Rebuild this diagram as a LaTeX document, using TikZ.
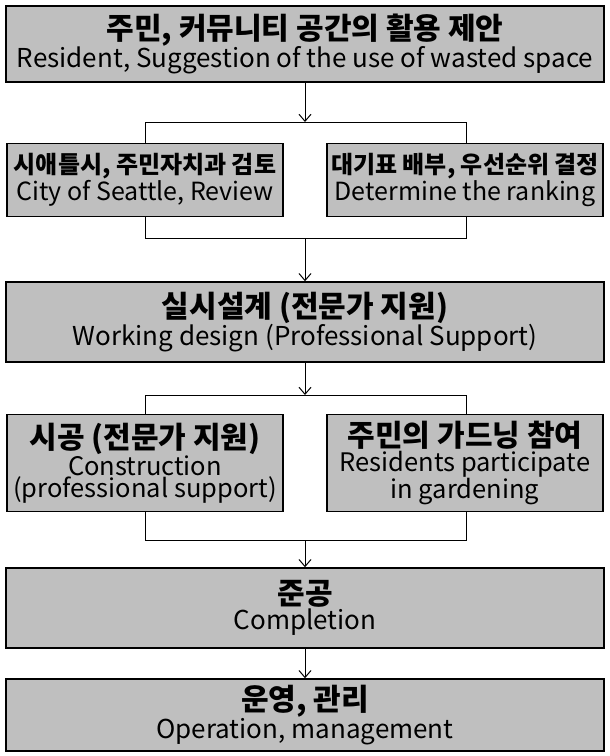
\documentclass[tikz,border=0pt]{standalone}
\usepackage{fontspec}
\usetikzlibrary{arrows.meta}
\setmainfont{Noto Sans CJK KR}
\begin{document}
\begin{tikzpicture}[x=1pt,y=-1pt,
 box/.style={draw=black,line width=1.5pt,fill=gray!50,inner sep=0pt,align=center},
 ln/.style={line width=1pt},
 ar/.style={line width=1pt,-{Straight Barb[length=7pt,width=12pt]}}]
\useasboundingbox (0,0) rectangle (610,756);
\newcommand\KB{\bfseries\fontsize{30}{32}\selectfont}
\newcommand\KS{\bfseries\fontsize{24}{30}\selectfont}
\newcommand\EN{\mdseries\fontsize{26}{32}\selectfont}
\newcommand\ES{\mdseries\fontsize{25}{30}\selectfont}
\newcommand\ET{\mdseries\fontsize{25.5}{28}\selectfont}
\node[box,minimum width=598pt,minimum height=76pt] (b1) at (305,44) {\KB 주민, 커뮤니티 공간의 활용 제안\\\EN Resident, Suggestion of the use of wasted space};
\node[box,minimum width=276pt,minimum height=73pt] (b2a) at (145,180) {\KS 시애틀시, 주민자치과 검토\\\ES City of Seattle, Review};
\node[box,minimum width=276pt,minimum height=73pt] (b2b) at (465,180) {\KS 대기표 배부, 우선순위 결정\\\ES Determine the ranking};
\node[box,minimum width=598pt,minimum height=80pt] (b3) at (305,322) {\KB 실시설계 (전문가 지원)\\\EN Working design (Professional Support)};
\node[box,minimum width=276pt,minimum height=97pt] (b4a) at (145,463) {\KB 시공 (전문가 지원)\\\ET Construction\\\ET (professional support)};
\node[box,minimum width=276pt,minimum height=97pt] (b4b) at (465,463) {\KB 주민의 가드닝 참여\\\ET Residents participate\\\ET in gardening};
\node[box,minimum width=598pt,minimum height=80pt] (b5) at (305,608) {\KB 준공\\\EN Completion};
\node[box,minimum width=598pt,minimum height=72pt] (b6) at (305,715) {\KB 운영, 관리\\\EN Operation, management};
\coordinate (t1) at (305,122);
\coordinate (u1) at (305,238);
\coordinate (t2) at (305,395);
\coordinate (u2) at (305,540);
\draw[ar] (b1.south) -- (t1);
\draw[ln] (145,0|-b2a.north) -- (145,122) -- (466,122) -- (466,0|-b2b.north);
\draw[ln] (145,0|-b2a.south) -- (145,238) -- (466,238) -- (466,0|-b2b.south);
\draw[ar] (u1) -- (b3.north);
\draw[ar] (b3.south) -- (t2);
\draw[ln] (145,0|-b4a.north) -- (145,395) -- (466,395) -- (466,0|-b4b.north);
\draw[ln] (145,0|-b4a.south) -- (145,540) -- (466,540) -- (466,0|-b4b.south);
\draw[ar] (u2) -- (b5.north);
\draw[ar] (b5.south) -- (b6.north);
\end{tikzpicture}
\end{document}
